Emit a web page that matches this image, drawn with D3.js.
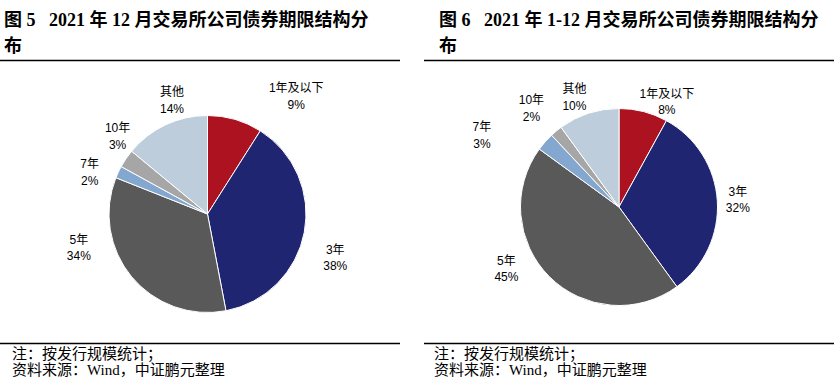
<!DOCTYPE html>
<html>
<head>
<meta charset="utf-8">
<script src="https://cdn.jsdelivr.net/npm/d3@7/dist/d3.min.js"></script>
<style>
  body { margin: 0; background: #fff; }
  svg { display: block; }
</style>
</head>
<body>
<div id="my_dataviz"></div>
<script>
// data
var categories = ["1年及以下", "3年", "5年", "7年", "10年", "其他"];
var decValues = [9, 38, 34, 2, 3, 14];      // 2021年12月
var yearValues = [8, 32, 45, 3, 2, 10];     // 2021年1-12月
var titles = [
  ["图 5\u00a0\u00a0\u00a02021 年 12 月交易所公司债券期限结构分", "布"],
  ["图 6\u00a0\u00a0\u00a02021 年 1-12 月交易所公司债券期限结构分", "布"]
];
var notes = ["注：按发行规模统计；", "资料来源：Wind，中证鹏元整理"];

var colors = ["#ac1220", "#1f2570", "#595959", "#84a7d0", "#a6a6a6", "#bdcddb"];

var width = 834, height = 387;
var svg = d3.select("#my_dataviz")
  .append("svg")
    .attr("width", width)
    .attr("height", height);

var cjk = "'Liberation Serif', 'Noto Sans CJK SC', serif";
var lab = "'Liberation Sans', 'Noto Sans CJK SC', sans-serif";

// label nudges relative to the outer centroid (layout only)
var panels = [
  { x0: 0, x1: 400, tx: 4, fx: 12, cx: 207.5, cy: 214, values: decValues, title: titles[0],
    nudge: [[53, 5], [2, 20], [-30, -48], [-2, 13], [16, -6], [19, 2]] },
  { x0: 424, x1: 834, tx: 439, fx: 434, cx: 619, cy: 207, values: yearValues, title: titles[1],
    nudge: [[16, 19], [-9, 1], [-22, -29], [-41, 13], [-6, 0], [-5, 12]] }
];

var r = 98.5;
var pie = d3.pie().sort(null).value(function(d) { return d; });
var arc = d3.arc().innerRadius(0).outerRadius(r);
var labelArc = d3.arc().innerRadius(r * 1.3).outerRadius(r * 1.3);

panels.forEach(function(p) {
  var g = svg.append("g");

  // title
  p.title.forEach(function(t, i) {
    g.append("text")
      .attr("x", p.tx)
      .attr("y", 26 + i * 26)
      .style("font-family", cjk)
      .style("font-weight", "bold")
      .style("font-size", "18px")
      .style("fill", "#000")
      .text(t);
  });

  g.append("line")
    .attr("x1", p.x0).attr("x2", p.x1)
    .attr("y1", 60.5).attr("y2", 60.5)
    .attr("stroke", "#000").attr("stroke-width", 1.3);

  g.append("line")
    .attr("x1", p.x0).attr("x2", p.x1)
    .attr("y1", 343.5).attr("y2", 343.5)
    .attr("stroke", "#000").attr("stroke-width", 1.3);

  notes.forEach(function(t, i) {
    g.append("text")
      .attr("x", p.fx)
      .attr("y", 358.5 + i * 16)
      .style("font-family", cjk)
      .style("font-size", "15px")
      .style("fill", "#000")
      .text(t);
  });

  var chart = g.append("g")
    .attr("transform", "translate(" + p.cx + "," + p.cy + ")");

  var arcs = pie(p.values);

  chart.selectAll("path")
    .data(arcs)
    .enter()
    .append("path")
      .attr("d", arc)
      .attr("fill", function(d, i) { return colors[i]; })
      .attr("stroke", "#fff")
      .attr("stroke-width", 1);

  var labels = chart.selectAll(".lbl")
    .data(arcs)
    .enter()
    .append("text")
      .attr("class", "lbl")
      .attr("text-anchor", "middle")
      .style("font-family", lab)
      .style("font-size", "12px")
      .style("fill", "#000")
      .attr("transform", function(d, i) {
        var c = labelArc.centroid(d);
        return "translate(" + (c[0] + p.nudge[i][0]) + "," + (c[1] + p.nudge[i][1]) + ")";
      });

  labels.append("tspan")
    .attr("x", 0).attr("y", -4)
    .text(function(d, i) { return categories[i]; });
  labels.append("tspan")
    .attr("x", 0).attr("y", 12.5)
    .text(function(d) { return d.value + "%"; });
});
</script>
</body>
</html>
